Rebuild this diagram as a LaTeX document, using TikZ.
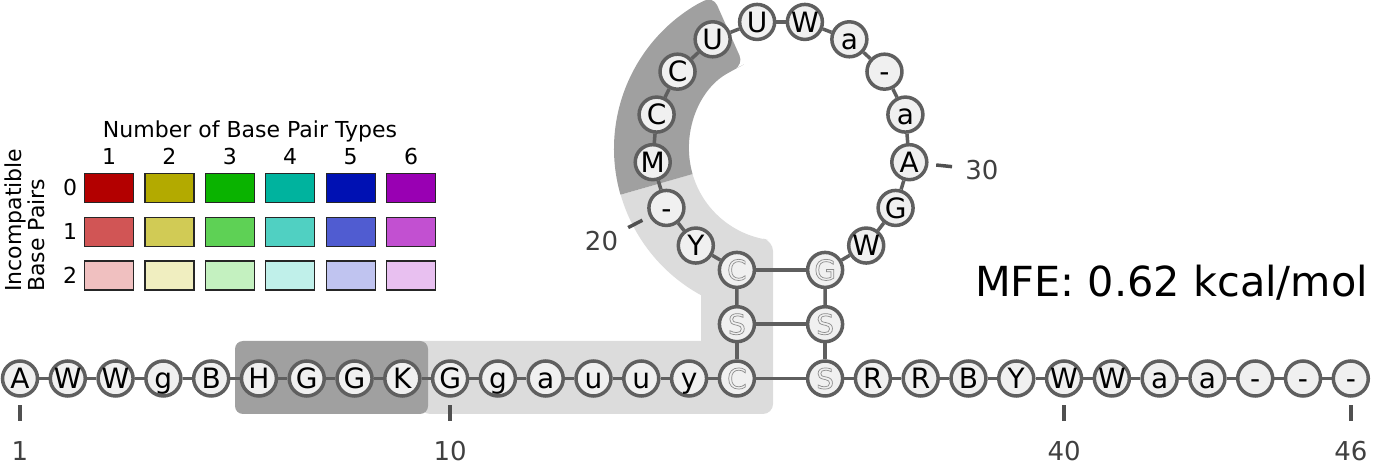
\documentclass[tikz,border=0pt]{standalone}
\usepackage{fontspec}
\setmainfont{DejaVu Sans}
\usetikzlibrary{calc}
\definecolor{ntline}{HTML}{5F5F5F}
\definecolor{ntfill}{HTML}{F0F0F0}
\definecolor{hdark}{HTML}{A0A0A0}
\definecolor{hlight}{HTML}{DCDCDC}
\definecolor{tickgray}{HTML}{505050}
\definecolor{numgray}{HTML}{404040}
\definecolor{bp01}{HTML}{B30000}
\definecolor{bp02}{HTML}{B3AA00}
\definecolor{bp03}{HTML}{0AB300}
\definecolor{bp04}{HTML}{00B39E}
\definecolor{bp05}{HTML}{0011B3}
\definecolor{bp06}{HTML}{9900B3}
\definecolor{bp11}{HTML}{D15555}
\definecolor{bp12}{HTML}{D1CB55}
\definecolor{bp13}{HTML}{5ED155}
\definecolor{bp14}{HTML}{50D0C2}
\definecolor{bp15}{HTML}{505CD1}
\definecolor{bp16}{HTML}{C250D1}
\definecolor{bp21}{HTML}{F0C0C0}
\definecolor{bp22}{HTML}{F0EEC0}
\definecolor{bp23}{HTML}{C4F1C0}
\definecolor{bp24}{HTML}{C0F0EA}
\definecolor{bp25}{HTML}{C0C4F0}
\definecolor{bp26}{HTML}{E8C0F0}
\newcommand{\hollow}[1]{\special{pdf:literal direct 1 Tr 0.7 w}#1\special{pdf:literal direct 0 Tr}}
\tikzstyle{base} = [circle, draw=ntline, fill=ntfill, line width=3.5pt, minimum size=35pt, inner sep=0pt, font=\fontsize{28}{28}\selectfont, text height=20.4pt, text depth=0pt]
\tikzstyle{paired} = [base, text=black!45]
\tikzstyle{backbone} = [draw=ntline, line width=3.5pt]
\tikzstyle{tick} = [draw=tickgray, line width=3.5pt]
\tikzstyle{ticklabel} = [text=numgray, font=\fontsize{26}{26}\selectfont, text height=19pt, text depth=0pt, inner sep=0pt]
\tikzstyle{legtext} = [font=\fontsize{22}{23}\selectfont, inner sep=0pt]
\tikzstyle{swatch} = [draw=black!85, line width=1.2pt, minimum width=49pt, minimum height=29pt, inner sep=0pt]
\begin{document}
\begin{tikzpicture}[x=1pt,y=1pt]
\useasboundingbox (0,0) rectangle (1373,463);
\coordinate (ctr) at (781,314.3);
% highlighted stretches
\fill[hlight] (420,49) -- (420,122) -- (701,122) -- (701,167.8) arc[start angle=241.3, end angle=196, radius=167] -- ($(ctr)+(196:92)$) arc[start angle=196, end angle=262, radius=92] [rounded corners=10pt] -- (773,222) -- (773,49) -- (420,49) -- cycle;
\fill[hdark, rounded corners=8pt] (235,49) rectangle (428,122);
\fill[hdark] ($(ctr)+(196:92)$) -- ($(ctr)+(196:167)$) arc[start angle=196, end angle=120, radius=167] [rounded corners=10pt] -- ($(ctr)+(114:167)$) -- ($(ctr)+(114:92)$) -- ($(ctr)+(120:92)$) [sharp corners] arc[start angle=120, end angle=196, radius=92] -- cycle;
% nucleotides
\foreach \c [count=\i] in {A,W,W,g,B,H,G,G,K,G,g,a,u,u,y}
  \node[base] (n\i) at ({20+(\i-1)*47.79},84.5) {\c};
\node[paired] (n16) at (736.9,84.5) {\hollow{C}};
\node[paired] (n17) at (736.9,138.8) {\hollow{S}};
\node[paired] (n18) at ($(ctr)+(250:129)$) {\hollow{C}};
\foreach \c [count=\j from 19] in {Y,-,M,C,C,U,U,W,a,-,a,A,G,W}
  \node[base] (n\j) at ($(ctr)+({250-(\j-18)*21.3333}:129)$) {\c};
\node[paired] (n33) at ($(ctr)+(290:129)$) {\hollow{G}};
\node[paired] (n34) at (825.1,138.8) {\hollow{S}};
\node[paired] (n35) at (825.1,84.5) {\hollow{S}};
\foreach \c [count=\i from 36] in {R,R,B,Y,W,W,a,a,-,-,-}
  \node[base] (n\i) at ({825.1+(\i-35)*47.79},84.5) {\c};
% backbone and pairs
\foreach \i [count=\k from 2] in {1,...,45}
  \draw[backbone] (n\i) -- (n\k);
\foreach \a/\b in {16/35,17/34,18/33}
  \draw[backbone] (n\a) -- (n\b);
% numbering
\foreach \i in {1,10,40,46} {
  \draw[tick] ($(n\i)+(0,-27)$) -- ($(n\i)+(0,-43)$);
  \node[ticklabel] (lab\i) at ($(n\i)+(0,-72.5)$) {\i};
}
\draw[tick] ($(ctr)+(207.3:156)$) -- ($(ctr)+(207.3:172)$);
\node[ticklabel] (lab20) at ($(ctr)+(207.3:202)$) {20};
\draw[tick] ($(ctr)+(-6:156)$) -- ($(ctr)+(-6:172)$);
\node[ticklabel] (lab30) at ($(ctr)+(-6:202)$) {30};
% legend
\node[legtext, anchor=base] (ltitle) at (250,325) {Number of Base Pair Types};
\foreach \c in {1,...,6}
  \node[legtext, anchor=base] (col\c) at ({109+(\c-1)*60.4},298) {\c};
\foreach \r/\y in {0/275,1/231,2/187.5} {
  \node[legtext, anchor=base] (row\r) at (70,{\y-8}) {\r};
  \foreach \c in {1,...,6}
    \node[swatch, fill=bp\r\c] (sw\r\c) at ({109+(\c-1)*60.4},\y) {};
}
\node[legtext, rotate=90, align=left, anchor=north west] (lside) at (5,171) {Incompatible\\Base Pairs};
\node[anchor=base west, inner sep=0pt, font=\fontsize{41.4}{41.4}\selectfont] (mfe) at (975,166) {MFE: 0.62 kcal/mol};
\end{tikzpicture}
\end{document}
